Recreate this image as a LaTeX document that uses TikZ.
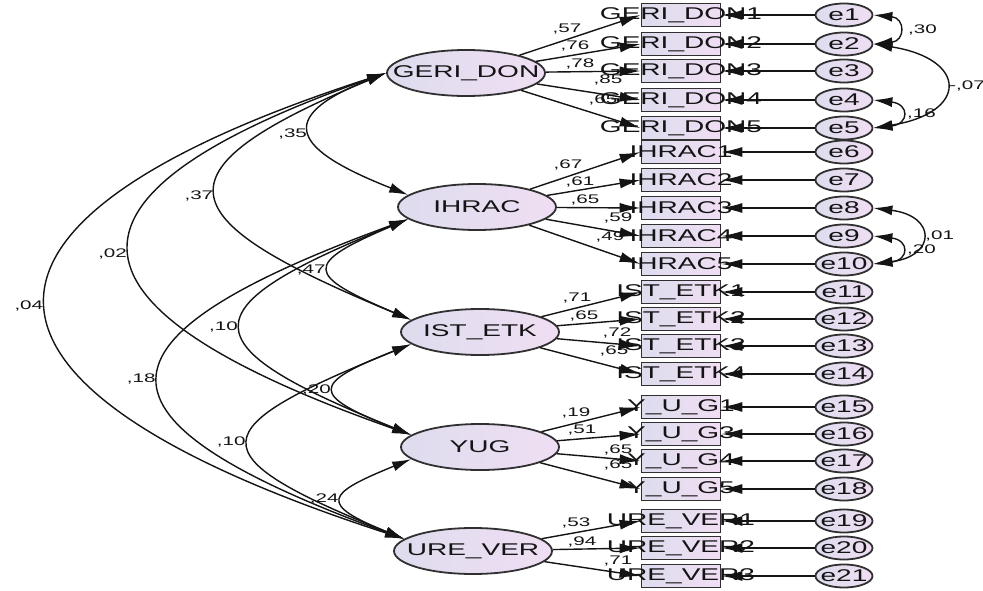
\documentclass[tikz,border=0pt]{standalone}
\usepackage{fontspec}
\setmainfont{Liberation Sans}[FakeStretch=1.65]
\usetikzlibrary{shapes.geometric,arrows.meta}
\definecolor{lilaL}{HTML}{DEDCEE}
\definecolor{lilaR}{HTML}{F0DEF3}
\definecolor{rim}{HTML}{303030}
\definecolor{ink}{HTML}{141414}

\begin{document}
\begin{tikzpicture}[x=1pt,y=-1pt,
  latent/.style={ellipse, draw=rim, line width=1.8pt, left color=lilaL, right color=lilaR,
    minimum width=158pt, minimum height=46pt, inner sep=0pt, text=ink,
    font=\fontsize{17}{17}\selectfont},
  obs/.style={rectangle, draw=rim, line width=1.8pt, left color=lilaL, right color=lilaR,
    minimum width=79pt, minimum height=23pt, inner sep=0pt, text=ink,
    font=\fontsize{17}{17}\selectfont},
  err/.style={ellipse, draw=rim, line width=1.8pt, left color=lilaL, right color=lilaR,
    minimum width=57pt, minimum height=23pt, inner sep=0pt, text=ink,
    font=\fontsize{17}{17}\selectfont},
  num/.style={inner sep=0pt, text=ink, font=\fontsize{12.5}{12.5}\selectfont},
  path/.style={line width=1.4pt, draw=ink, -{Latex[length=21pt,width=10pt]}},
  cov/.style={line width=1.4pt, draw=ink,
    {Latex[length=19pt,width=10pt]}-{Latex[length=19pt,width=10pt]}}]
  \useasboundingbox (0,0) rectangle (983,591);

  % latent variables
  \node[latent] (gd) at (466,73) {\makebox[0pt]{GERI\_DON}};
  \node[latent] (ih) at (477,207) {\makebox[0pt]{IHRAC}};
  \node[latent] (ie) at (480,332) {\makebox[0pt]{IST\_ETK}};
  \node[latent] (yg) at (480,447) {\makebox[0pt]{YUG}};
  \node[latent] (ur) at (473,551) {\makebox[0pt]{URE\_VER}};

  % indicators, errors and loadings
  \foreach \s/\i/\y/\lab/\val/\lx/\ly in {
      gd/1/15/GERI\_DON1/{,57}/567/29, gd/2/44/GERI\_DON2/{,76}/575/46,
      gd/3/71/GERI\_DON3/{,78}/580/64, gd/4/100/GERI\_DON4/{,85}/608/80,
      gd/5/128/GERI\_DON5/{,65}/603/100,
      ih/6/152/IHRAC1/{,67}/568/165, ih/7/180/IHRAC2/{,61}/580/182,
      ih/8/208/IHRAC3/{,65}/585/200, ih/9/236/IHRAC4/{,59}/618/218,
      ih/10/264/IHRAC5/{,49}/610/237,
      ie/11/292/IST\_ETK1/{,71}/577/298, ie/12/319/IST\_ETK2/{,65}/584/316,
      ie/13/346/IST\_ETK3/{,72}/617/333, ie/14/374/IST\_ETK4/{,65}/614/351,
      yg/15/407/Y\_U\_G1/{,19}/576/413, yg/16/434/Y\_U\_G3/{,51}/582/430,
      yg/17/461/Y\_U\_G4/{,65}/618/450, yg/18/489/Y\_U\_G5/{,65}/618/465,
      ur/19/521/URE\_VER1/{,53}/576/523, ur/20/548/URE\_VER2/{,94}/582/542,
      ur/21/576/URE\_VER3/{,71}/618/561} {
    \node[obs] (o\i) at (681,\y) {\makebox[0pt]{\lab}};
    \node[err] (e\i) at (844,\y) {\makebox[0pt]{e\i}};
    \draw[path] (\s) -- (o\i.west);
    \draw[path] (e\i) -- (o\i.east);
    \node[num] (w\i) at (\lx,\ly) {\val};
  }

  % factor covariances
  \draw[cov] (gd.west) .. controls +(-114,45) and +(-114,-45) .. (ih.170) node[num, pos=.5, left=4pt] (c1) {,35};
  \draw[cov] (gd.west) .. controls +(-241,100) and +(-241,-100) .. (ie.170) node[num, pos=.5, left=4pt] (c2) {,37};
  \draw[cov] (gd.west) .. controls +(-356,125) and +(-356,-125) .. (yg.170) node[num, pos=.5, left=4pt] (c3) {,02};
  \draw[cov] (gd.west) .. controls +(-463,150) and +(-463,-150) .. (ur.170) node[num, pos=.5, left=4pt] (c4) {,04};
  \draw[cov] (ih.190) .. controls +(-106,45) and +(-106,-45) .. (ie.170) node[num, pos=.5, left=4pt] (c5) {,47};
  \draw[cov] (ih.190) .. controls +(-223,90) and +(-223,-90) .. (yg.170) node[num, pos=.5, left=4pt] (c6) {,10};
  \draw[cov] (ih.190) .. controls +(-328,120) and +(-328,-120) .. (ur.170) node[num, pos=.5, left=4pt] (c7) {,18};
  \draw[cov] (ie.190) .. controls +(-101,40) and +(-101,-40) .. (yg.170) node[num, pos=.5, left=4pt] (c8) {,20};
  \draw[cov] (ie.190) .. controls +(-210,85) and +(-210,-85) .. (ur.170) node[num, pos=.5, left=4pt] (c9) {,10};
  \draw[cov] (yg.190) .. controls +(-86,35) and +(-86,-35) .. (ur.170) node[num, pos=.5, left=4pt] (c10) {,24};

  % error covariances
  \draw[cov] (e1.east) .. controls +(32,3) and +(32,-3) .. (e2.east) node[num, pos=.5, right=10pt] (r1) {,30};
  \draw[cov] (e2.east) .. controls +(95,15) and +(95,-15) .. (e5.east) node[num, pos=.5, right=4pt] (r2) {-,07};
  \draw[cov] (e4.east) .. controls +(36,4) and +(36,-4) .. (e5.east) node[num, pos=.5, right=6pt] (r3) {,16};
  \draw[cov] (e8.east) .. controls +(63,8) and +(63,-8) .. (e10.east) node[num, pos=.5, right=4pt] (r4) {,01};
  \draw[cov] (e9.east) .. controls +(36,4) and +(36,-4) .. (e10.east) node[num, pos=.5, right=6pt] (r5) {,20};
\end{tikzpicture}
\end{document}
